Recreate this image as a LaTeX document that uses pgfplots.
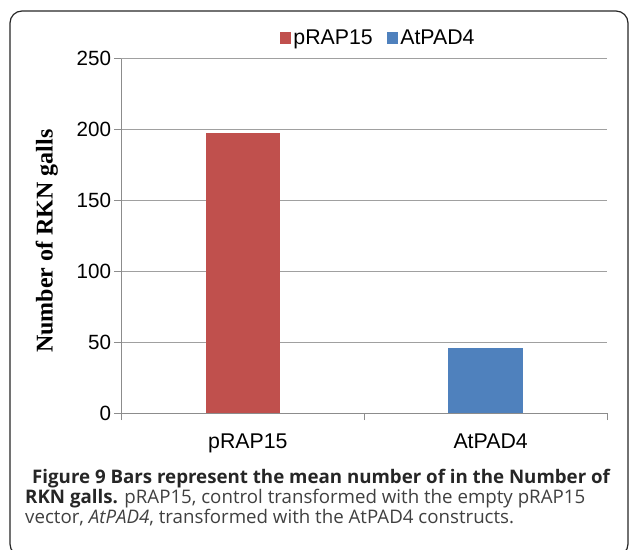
\documentclass[border=0pt]{standalone}
\usepackage{pgfplots}
\pgfplotsset{compat=1.18}
\usepackage{fontspec}
\setmainfont{Liberation Sans}
\newfontfamily\serifb{Liberation Serif}
\newfontfamily\osans{Open Sans}
\definecolor{barred}{HTML}{C0504D}
\definecolor{barblue}{HTML}{4F81BD}
\definecolor{gridg}{HTML}{A0A0A0}
\definecolor{axisg}{HTML}{8C8C8C}
\definecolor{captb}{HTML}{262626}
\definecolor{captr}{HTML}{404040}
\begin{document}
\begin{tikzpicture}[x=1pt,y=1pt]
\path[use as bounding box] (0,0) rectangle (629,-549);
\draw[rounded corners=12pt, line width=1.2pt, black!85] (10,-11) rectangle (628,-556);
\begin{axis}[
  at={(121.5pt,-413pt)}, anchor=south west,
  scale only axis, width=485.5pt, height=354.5pt,
  ybar, bar width=74.5pt, bar shift=0pt,
  xmin=-0.5, xmax=1.5, ymin=0, ymax=250,
  axis lines*=left,
  axis line style={axisg, line width=1pt},
  ytick={0,50,...,250},
  xtick={-0.5,0.5,1.5}, xticklabels={},
  extra x ticks={0,1}, extra x tick labels={pRAP15,AtPAD4},
  extra x tick style={major tick length=0pt, grid=none,
    tick label style={yshift=-17pt, xshift=5pt, font=\fontsize{21.3}{24}\selectfont}},
  tick align=outside, major tick length=7pt,
  tick style={axisg, line width=1pt},
  ymajorgrids, grid style={gridg, line width=1pt},
  /pgf/number format/assume math mode=true,
  tick label style={font=\fontsize{20.6}{24}\selectfont},
  ylabel={Number of RKN galls},
  ylabel style={font=\serifb\bfseries\fontsize{24}{28}\selectfont, at={(axis description cs:-0.154,0.485)}, anchor=center},
  legend columns=2,
  legend style={at={(0.5,1)}, anchor=south, xshift=14pt, yshift=8pt, draw=none, fill=none,
    font=\fontsize{21.3}{24}\selectfont,
    /tikz/every even column/.append style={column sep=12pt}},
  legend image code/.code={\fill[#1] (0pt,-5.75pt) rectangle (11.5pt,5.75pt);},
]
\addplot[fill=barred, draw=none] coordinates {(0,197.2)};
\addplot[fill=barblue, draw=none] coordinates {(1,45.5)};
\legend{pRAP15,AtPAD4}
\end{axis}
\node[anchor=base west, inner sep=0pt, text=captb, font=\osans\bfseries\fontsize{18.7}{20}\selectfont] at (32,-483) {Figure 9 Bars represent the mean number of in the Number of};
\node[anchor=base west, inner sep=0pt, text=captr, font=\osans\fontsize{18.7}{20}\selectfont] at (25,-503) {{\color{captb}\bfseries RKN galls.} pRAP15, control transformed with the empty pRAP15};
\node[anchor=base west, inner sep=0pt, text=captr, font=\osans\fontsize{18.7}{20}\selectfont] at (25,-523) {vector, \textit{AtPAD4}, transformed with the AtPAD4 constructs.};
\end{tikzpicture}
\end{document}
